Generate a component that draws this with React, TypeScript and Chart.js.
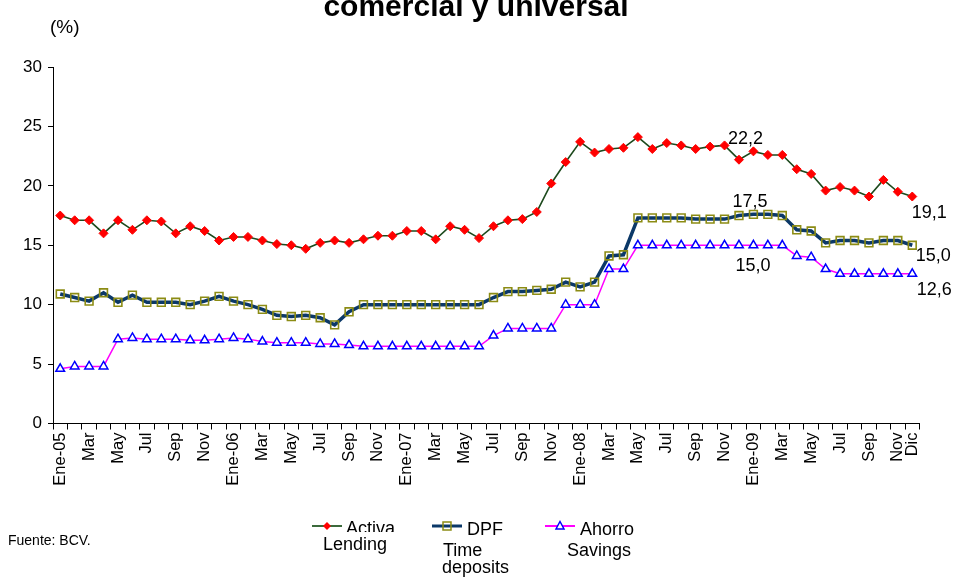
import React, { useEffect, useRef } from 'react';
import { Chart, registerables } from 'chart.js';

Chart.register(...registerables);

const categories = [
  'Ene-05', 'Feb', 'Mar', 'Abr', 'May', 'Jun', 'Jul', 'Ago', 'Sep', 'Oct', 'Nov', 'Dic',
  'Ene-06', 'Feb', 'Mar', 'Abr', 'May', 'Jun', 'Jul', 'Ago', 'Sep', 'Oct', 'Nov', 'Dic',
  'Ene-07', 'Feb', 'Mar', 'Abr', 'May', 'Jun', 'Jul', 'Ago', 'Sep', 'Oct', 'Nov', 'Dic',
  'Ene-08', 'Feb', 'Mar', 'Abr', 'May', 'Jun', 'Jul', 'Ago', 'Sep', 'Oct', 'Nov', 'Dic',
  'Ene-09', 'Feb', 'Mar', 'Abr', 'May', 'Jun', 'Jul', 'Ago', 'Sep', 'Oct', 'Nov', 'Dic',
];

const activa = [
  17.5, 17.1, 17.1, 16.0, 17.1, 16.3, 17.1, 17.0, 16.0, 16.6, 16.2, 15.4,
  15.7, 15.7, 15.4, 15.1, 15.0, 14.7, 15.2, 15.4, 15.2, 15.5, 15.8, 15.8,
  16.2, 16.2, 15.5, 16.6, 16.3, 15.6, 16.6, 17.1, 17.2, 17.8, 20.2, 22.0,
  23.7, 22.8, 23.1, 23.2, 24.1, 23.1, 23.6, 23.4, 23.1, 23.3, 23.4, 22.2,
  22.9, 22.6, 22.6, 21.4, 21.0, 19.6, 19.9, 19.6, 19.1, 20.5, 19.5, 19.1,
];

const dpf = [
  10.9, 10.6, 10.3, 11.0, 10.2, 10.8, 10.2, 10.2, 10.2, 10.0, 10.3, 10.7,
  10.3, 10.0, 9.6, 9.1, 9.0, 9.1, 8.9, 8.3, 9.4, 10.0, 10.0, 10.0,
  10.0, 10.0, 10.0, 10.0, 10.0, 10.0, 10.6, 11.1, 11.1, 11.2, 11.3, 11.9,
  11.5, 11.9, 14.1, 14.2, 17.3, 17.3, 17.3, 17.3, 17.2, 17.2, 17.2, 17.5,
  17.6, 17.6, 17.5, 16.3, 16.2, 15.2, 15.4, 15.4, 15.2, 15.4, 15.4, 15.0,
];

const ahorro = [
  4.6, 4.8, 4.8, 4.8, 7.1, 7.2, 7.1, 7.1, 7.1, 7.0, 7.0, 7.1,
  7.2, 7.1, 6.9, 6.8, 6.8, 6.8, 6.7, 6.7, 6.6, 6.5, 6.5, 6.5,
  6.5, 6.5, 6.5, 6.5, 6.5, 6.5, 7.4, 8.0, 8.0, 8.0, 8.0, 10.0,
  10.0, 10.0, 13.0, 13.0, 15.0, 15.0, 15.0, 15.0, 15.0, 15.0, 15.0, 15.0,
  15.0, 15.0, 15.0, 14.1, 14.0, 13.0, 12.6, 12.6, 12.6, 12.6, 12.6, 12.6,
];

const seriesNames = [
  ['Activa', 'Lending'],
  ['DPF', 'Time', 'deposits'],
  ['Ahorro', 'Savings'],
];

const yTicks = [0, 5, 10, 15, 20, 25, 30];

const titleText = 'comercial y universal';
const unitText = '(%)';
const sourceText = 'Fuente: BCV.';

const FONT = '"Liberation Sans", Arial, sans-serif';

const labelSpecs = [
  { ds: 0, idx: 47, dx: 6.5, dy: -21 },
  { ds: 1, idx: 47, dx: 11, dy: -14 },
  { ds: 2, idx: 47, dx: 14, dy: 21 },
  { ds: 0, idx: 59, dx: 17, dy: 17 },
  { ds: 1, idx: 59, dx: 21, dy: 11 },
  { ds: 2, idx: 59, dx: 22, dy: 16 },
];

const fmt = (v: number) => v.toFixed(1).replace('.', ',');

const extrasPlugin = {
  id: 'extras',
  afterDatasetsDraw(chart: any) {
    const ctx = chart.ctx as CanvasRenderingContext2D;
    ctx.save();
    ctx.fillStyle = '#000';
    ctx.font = `18px ${FONT}`;
    ctx.textAlign = 'center';
    ctx.textBaseline = 'middle';
    labelSpecs.forEach((s) => {
      const pt = chart.getDatasetMeta(s.ds).data[s.idx];
      const v = chart.data.datasets[s.ds].data[s.idx];
      ctx.fillText(fmt(v), pt.x + s.dx, pt.y + s.dy);
    });
    ctx.restore();
  },
  afterDraw(chart: any) {
    const ctx = chart.ctx as CanvasRenderingContext2D;
    ctx.save();
    // title (partly cut off at top)
    ctx.fillStyle = '#000';
    ctx.font = `bold 30px ${FONT}`;
    ctx.textAlign = 'center';
    ctx.textBaseline = 'alphabetic';
    ctx.fillText(titleText, 476, 16);
    // unit
    ctx.font = `19px ${FONT}`;
    ctx.textAlign = 'left';
    ctx.fillText(unitText, 50, 33);
    // source
    ctx.font = `14px ${FONT}`;
    ctx.fillText(sourceText, 8, 545);

    // legend
    const items = [
      { x: 312, texts: [[346, 534], [323, 550]] },
      { x: 432, texts: [[467, 535], [443, 556], [442, 573]] },
      { x: 545, texts: [[580, 535], [567, 556]] },
    ];
    const ly = 526;
    items.forEach((it, i) => {
      const ds = chart.data.datasets[i];
      ctx.strokeStyle = i === 0 ? '#3c6a3c' : ds.borderColor;
      ctx.lineWidth = i === 1 ? 3 : 2;
      ctx.beginPath();
      ctx.moveTo(it.x, ly);
      ctx.lineTo(it.x + 30, ly);
      ctx.stroke();
      const cx = it.x + 15;
      ctx.lineWidth = 1.5;
      if (i === 0) {
        ctx.fillStyle = ds.pointBackgroundColor;
        ctx.beginPath();
        ctx.moveTo(cx, ly - 4);
        ctx.lineTo(cx + 4, ly);
        ctx.lineTo(cx, ly + 4);
        ctx.lineTo(cx - 4, ly);
        ctx.closePath();
        ctx.fill();
      } else if (i === 1) {
        ctx.strokeStyle = ds.pointBorderColor;
        ctx.strokeRect(cx - 4, ly - 4, 8, 8);
      } else {
        ctx.fillStyle = '#fff';
        ctx.strokeStyle = ds.pointBorderColor;
        ctx.beginPath();
        ctx.moveTo(cx, ly - 4.5);
        ctx.lineTo(cx + 4, ly + 3);
        ctx.lineTo(cx - 4, ly + 3);
        ctx.closePath();
        ctx.fill();
        ctx.stroke();
      }
      ctx.fillStyle = '#000';
      ctx.font = `18px ${FONT}`;
      seriesNames[i].forEach((t, j) => {
        const [tx, ty] = it.texts[j];
        if (i === 0 && j === 0) {
          ctx.save();
          ctx.beginPath();
          ctx.rect(tx - 2, ty - 20, 80, 18);
          ctx.clip();
          ctx.fillText(t, tx, ty);
          ctx.restore();
        } else {
          ctx.fillText(t, tx, ty);
        }
      });
    });
    ctx.restore();
  },
};

export default function App() {
  const ref = useRef<HTMLCanvasElement>(null);
  useEffect(() => {
    if (!ref.current) return;
    const chart = new Chart(ref.current, {
      type: 'line',
      data: {
        labels: categories,
        datasets: [
          {
            label: seriesNames[0].join(' '),
            data: activa,
            borderColor: '#1d4a1d',
            borderWidth: 1.6,
            pointStyle: 'rectRot',
            pointRadius: 4.5,
            pointBackgroundColor: '#ff0000',
            pointBorderColor: '#ff0000',
            pointBorderWidth: 1,
            tension: 0,
          },
          {
            label: seriesNames[1].join(' '),
            data: dpf,
            borderColor: '#0b3868',
            borderWidth: 3.5,
            pointStyle: 'rect',
            pointRadius: 5.5,
            pointBackgroundColor: 'rgba(0,0,0,0)',
            pointBorderColor: '#8c8c14',
            pointBorderWidth: 1.6,
            tension: 0,
          },
          {
            label: seriesNames[2].join(' '),
            data: ahorro,
            borderColor: '#ff00ff',
            borderWidth: 1.5,
            pointStyle: 'triangle',
            pointRadius: 5,
            pointBackgroundColor: '#ffffff',
            pointBorderColor: '#0000ff',
            pointBorderWidth: 1.5,
            tension: 0,
          },
        ],
      },
      options: {
        animation: false,
        responsive: false,
        devicePixelRatio: 1,
        layout: { padding: { top: 67, left: 0, right: 36.5, bottom: 74.5 } },
        plugins: {
          legend: { display: false },
          title: { display: false },
          tooltip: { enabled: false },
        },
        scales: {
          x: {
            type: 'category',
            offset: true,
            grid: {
              offset: true,
              drawOnChartArea: false,
              drawTicks: true,
              tickLength: 6,
              color: '#000',
            },
            border: { color: '#000', width: 1 },
            ticks: {
              autoSkip: false,
              maxRotation: 90,
              minRotation: 90,
              padding: 3,
              color: '#000',
              font: { family: FONT, size: 16.5 },
              callback: (_v: any, i: number) =>
                i % 2 === 0 || i === categories.length - 1 ? categories[i] : '',
            },
            afterFit: (s: any) => {
              s.height = 80;
            },
          },
          y: {
            min: yTicks[0],
            max: yTicks[yTicks.length - 1],
            afterBuildTicks: (s: any) => {
              s.ticks = yTicks.map((v) => ({ value: v }));
            },
            grid: {
              drawOnChartArea: false,
              drawTicks: true,
              tickLength: 5,
              color: '#000',
            },
            border: { color: '#000', width: 1 },
            ticks: {
              padding: 6,
              color: '#000',
              font: { family: FONT, size: 17 },
            },
            afterFit: (s: any) => {
              s.width = 53;
            },
          },
        },
      },
      plugins: [extrasPlugin],
    });
    return () => chart.destroy();
  }, []);
  return (
    <div style={{ position: 'absolute', left: 0, top: 0, width: 956, height: 578, background: '#fff' }}>
      <canvas ref={ref} width={956} height={578} style={{ display: 'block', width: 956, height: 578 }} />
    </div>
  );
}
